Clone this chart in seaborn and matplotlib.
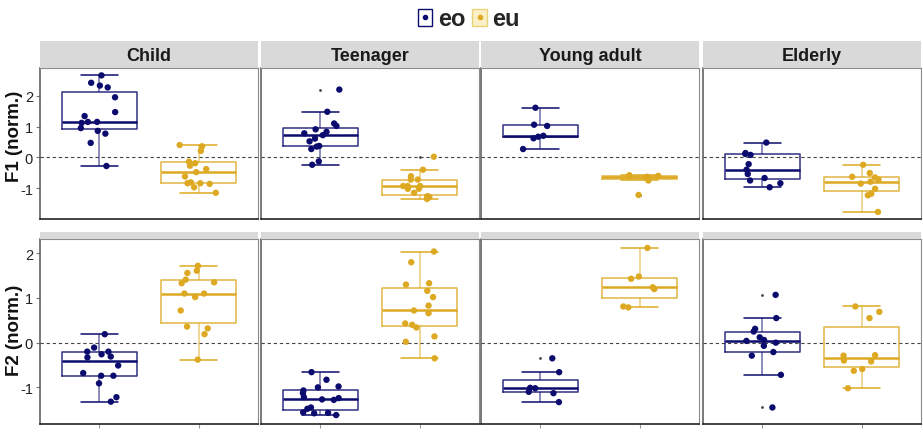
import numpy as np
import pandas as pd
import matplotlib
matplotlib.use("Agg")
import matplotlib.pyplot as plt
import seaborn as sns
from matplotlib.patches import Patch
from matplotlib.lines import Line2D

# ---------------- data ----------------
groups = ["eo", "eu"]
ages = ["Child", "Teenager", "Young adult", "Elderly"]
formants = ["F1", "F2"]
ylabels = ["F1 (norm.)", "F2 (norm.)"]
yticks = [-1, 0, 1, 2]
ytick_labels = ["-1", "0", "1", "2"]

f1_child_eo = [2.66, 2.27, 2.42, 2.33, 1.95, 1.47, 1.34, 1.15, 1.12, 1.15, 0.95, 0.86, 0.77, 0.47, -0.28]
f1_child_eu = [0.36, 0.40, 0.21, -0.14, -0.19, -0.27, -0.38, -0.48, -0.62, -0.84, -0.86, -0.81, -0.84, -0.97, -1.15]
f1_teen_eo = [2.20, 1.48, 1.02, 1.10, 0.91, 0.78, 0.83, 0.72, 0.61, 0.52, 0.35, 0.37, 0.27, -0.24, -0.13]
f1_teen_eu = [0.02, -0.40, -0.61, -0.72, -0.72, -1.02, -0.93, -0.93, -0.93, -1.02, -1.15, -1.26, -1.29, -1.27, -1.35]
f1_young_eo = [1.61, 1.02, 1.06, 0.70, 0.62, 0.67, 0.27]
f1_young_eu = [-0.58, -0.60, -0.62, -0.63, -0.66, -0.75, -1.22]
f1_elder_eo = [0.48, 0.11, 0.14, 0.08, -0.22, -0.40, -0.54, -0.67, -0.75, -0.84, -0.97]
f1_elder_eu = [-0.24, -0.51, -0.63, -0.72, -0.65, -0.79, -0.85, -1.02, -1.18, -1.23, -1.77]

f2_child_eo = [0.19, -0.11, -0.26, -0.33, -0.20, -0.20, -0.31, -0.51, -0.74, -0.74, -0.68, -0.91, -1.22, -1.32]
f2_child_eu = [1.72, 1.61, 1.56, 1.41, 1.33, 1.35, 1.10, 1.10, 1.02, 0.72, 0.36, 0.32, 0.19, -0.38]
f2_teen_eo = [-0.66, -0.83, -0.98, -1.00, -1.07, -1.13, -1.22, -1.24, -1.27, -1.28, -1.48, -1.45, -1.57, -1.62, -1.58, -1.56]
f2_teen_eu = [2.04, 1.80, 1.33, 1.30, 1.16, 1.02, 0.83, 0.72, 0.66, 0.43, 0.40, 0.34, 0.14, 0.02, -0.35]
f2_young_eo = [-0.35, -0.66, -1.02, -1.10, -1.01, -1.13, -1.33]
f2_young_eu = [2.12, 1.48, 1.43, 1.24, 1.20, 0.81, 0.79]
f2_elder_eo = [1.07, 0.55, 0.31, 0.25, 0.12, 0.06, 0.04, 0.00, -0.07, -0.21, -0.29, -0.72, -1.45]
f2_elder_eu = [0.81, 0.69, 0.55, -0.28, -0.29, -0.40, -0.42, -0.63, -0.59, -1.02]

series = {
    ("F1", "Child"): (f1_child_eo, f1_child_eu),
    ("F1", "Teenager"): (f1_teen_eo, f1_teen_eu),
    ("F1", "Young adult"): (f1_young_eo, f1_young_eu),
    ("F1", "Elderly"): (f1_elder_eo, f1_elder_eu),
    ("F2", "Child"): (f2_child_eo, f2_child_eu),
    ("F2", "Teenager"): (f2_teen_eo, f2_teen_eu),
    ("F2", "Young adult"): (f2_young_eo, f2_young_eu),
    ("F2", "Elderly"): (f2_elder_eo, f2_elder_eu),
}

rows = []
for (fm, age), (eo_vals, eu_vals) in series.items():
    for g, vals in zip(groups, (eo_vals, eu_vals)):
        for v in vals:
            rows.append({"formant": fm, "age": age, "group": g, "value": v})
df = pd.DataFrame(rows)

# ---------------- style ----------------
sns.set_style("white")
FONT = ["Liberation Sans", "DejaVu Sans"]
plt.rcParams["font.family"] = FONT

navy = "#0c0c6e"
gold = "#DDA922"
palette = {"eo": navy, "eu": gold}

W, H = 923, 435
fig = plt.figure(figsize=(W / 100, H / 100), dpi=100)

panel_x = [40, 261, 481, 703]
panel_w = 218
row_top = [69, 240]
row_bot = [220, 425]
strip_top = [42, 233]
ylims = [(-2.0, 2.9), (-1.82, 2.32)]
label_y = [136, 330]

np.random.seed(3)

for r, fm in enumerate(formants):
    for c, age in enumerate(ages):
        x0 = panel_x[c] / W
        y0 = 1 - row_bot[r] / H
        h = (row_bot[r] - row_top[r]) / H
        ax = fig.add_axes([x0, y0, panel_w / W, h])
        sub = df[(df.formant == fm) & (df.age == age)]
        ax.axhline(0, ls=(0, (3, 2.5)), color="#444444", lw=0.8, zorder=1)
        sns.boxplot(data=sub, x="group", y="value", hue="group", order=groups,
                    hue_order=groups, palette=palette, fill=False, dodge=False,
                    width=0.75, linewidth=1.1, legend=False, ax=ax,
                    whiskerprops=dict(alpha=0.6),
                    boxprops=dict(alpha=0.85),
                    medianprops=dict(linewidth=1.8),
                    flierprops=dict(marker="o", markersize=2, markerfacecolor="#444444",
                                    markeredgecolor="none"))
        sns.stripplot(data=sub, x="group", y="value", hue="group", order=groups,
                      hue_order=groups, palette=palette, dodge=False, jitter=0.2,
                      size=4.6, linewidth=0, legend=False, ax=ax, zorder=3)
        ax.set_xlim(-0.6, 1.6)
        ax.set_ylim(*ylims[r])
        ax.set_xlabel("")
        ax.set_ylabel("")
        ax.set_yticks(yticks)
        if c == 0:
            ax.set_yticklabels(ytick_labels, fontsize=10.5, color="#222222")
            ax.tick_params(axis="y", length=3, color="#777777", pad=2, left=True)
        else:
            ax.set_yticklabels([])
            ax.tick_params(axis="y", length=0)
        ax.set_xticks([0, 1])
        ax.set_xticklabels([])
        if r == 1:
            ax.tick_params(axis="x", length=3, color="#999999", bottom=True)
        else:
            ax.tick_params(axis="x", length=0)
        for s in ["top", "right"]:
            ax.spines[s].set_color("#8a8a8a")
            ax.spines[s].set_linewidth(0.8)
        for s in ["left", "bottom"]:
            ax.spines[s].set_color("#111111")
            ax.spines[s].set_linewidth(1.1)
        ax.spines["left"].set_color("#555555")

        # strip
        sh = (row_top[r] - strip_top[r]) / H
        sax = fig.add_axes([x0, 1 - row_top[r] / H, panel_w / W, sh])
        sax.set_facecolor("#d9d9d9")
        sax.set_xticks([])
        sax.set_yticks([])
        for s in sax.spines.values():
            s.set_visible(False)
        if r == 0:
            sax.text(0.5, 0.45, age, ha="center", va="center", fontsize=13,
                     fontweight="bold", color="#1a1a1a", transform=sax.transAxes)

    fig.text(15 / W, 1 - label_y[r] / H, ylabels[r], rotation=90, ha="center",
             va="center", fontsize=13.5, fontweight="bold", color="#111111")

# legend
handles = [
    (Patch(facecolor="white", edgecolor=navy, linewidth=1.0),
     Line2D([], [], marker="o", color=navy, ls="", ms=3)),
    (Patch(facecolor="#fbefc6", edgecolor="#e8d27a", linewidth=1.0),
     Line2D([], [], marker="o", color=gold, ls="", ms=3)),
]
fig.legend(handles, groups, loc="center", bbox_to_anchor=(469 / W, 1 - 20 / H),
           ncol=2, frameon=False, handlelength=0.6, handleheight=0.7,
           handletextpad=0.25, columnspacing=0.3,
           prop=dict(size=17, weight="bold"))

fig.savefig("out.png", dpi=100)
